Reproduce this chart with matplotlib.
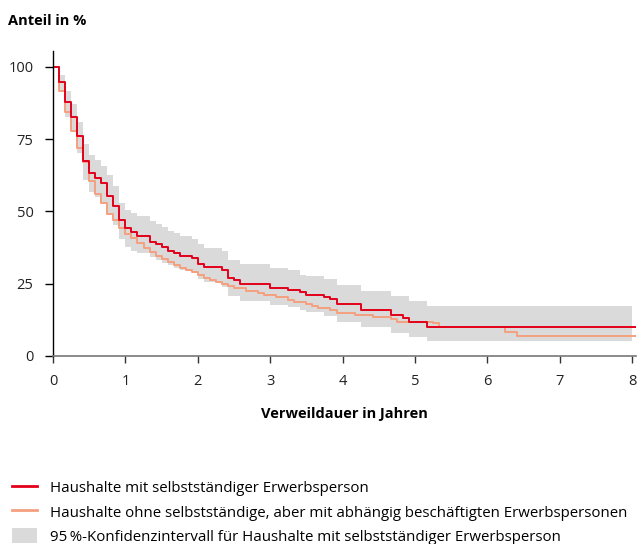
import numpy as np
import matplotlib
matplotlib.use("Agg")
import matplotlib.pyplot as plt
from matplotlib.lines import Line2D
from matplotlib.patches import Patch

plt.rcParams["font.family"] = ["Open Sans", "DejaVu Sans"]

# Kaplan-Meier steps, months since entry -> share in %
red_months = [0, 1, 2, 3, 4, 5, 6, 7, 8, 9, 10, 11, 12, 13, 14, 16, 17, 18, 19, 20,
              21, 23, 24, 25, 28, 29, 30, 31, 36, 39, 41, 42, 45, 46, 47, 51, 56, 58,
              59, 62, 97]
red_vals = [100, 94.9, 87.9, 82.8, 76.2, 67.5, 63.4, 61.4, 59.9, 55.5, 52.0, 47.2, 44.1,
            42.9, 41.6, 39.5, 38.6, 37.6, 36.4, 35.5, 34.6, 33.8, 31.8, 30.8, 29.7, 27.0,
            26.3, 24.9, 23.5, 22.9, 22.0, 21.2, 20.5, 19.6, 17.9, 15.9, 14.2, 13.0, 11.9,
            10.1, 10.1]

orange_months = [0, 1, 2, 3, 4, 5, 6, 7, 8, 9, 10, 11, 12, 13, 14, 15, 16, 17, 18, 19,
                 20, 21, 22, 23, 24, 25, 26, 27, 28, 29, 30, 32, 34, 35, 37, 39, 40, 42,
                 43, 44, 46, 47, 50, 53, 56, 57, 63, 64, 75, 77, 97]
orange_vals = [100, 91.7, 84.3, 77.9, 71.8, 67.0, 60.6, 56.0, 52.8, 49.0, 47.0, 44.1,
               42.2, 40.7, 39.0, 37.2, 35.9, 34.6, 33.4, 32.4, 31.3, 30.5, 29.7, 28.9,
               28.0, 27.1, 26.3, 25.5, 24.8, 24.1, 23.4, 22.6, 21.7, 21.0, 20.4, 19.5,
               18.8, 18.0, 17.3, 16.7, 15.9, 15.0, 14.2, 13.4, 12.7, 11.9, 11.3, 10.1,
               8.4, 7.0, 7.0]

# 95% confidence interval for red series
ci_months = [0, 1, 2, 3, 4, 5, 6, 7, 8, 9, 10, 11, 12, 13, 14, 16, 17, 18, 19, 20, 21,
             23, 24, 25, 28, 29, 31, 36, 39, 41, 42, 45, 47, 51, 56, 59, 62, 96]
ci_upper = [100, 97.1, 91.6, 87.3, 81.0, 73.3, 69.5, 67.7, 65.8, 62.6, 58.9, 53.0, 50.5,
            49.3, 48.5, 46.7, 45.5, 44.5, 43.3, 42.4, 41.5, 40.6, 38.7, 37.2, 36.3, 33.2,
            31.7, 30.3, 29.7, 28.0, 27.7, 26.8, 24.6, 22.6, 20.9, 19.0, 17.3, 17.3]
ci_lower = [100, 91.4, 82.7, 78.3, 70.3, 60.8, 56.8, 55.1, 52.8, 48.7, 45.3, 40.3, 37.6,
            36.4, 35.5, 34.3, 33.2, 32.3, 31.5, 30.4, 29.7, 28.6, 26.8, 25.7, 24.0, 20.7,
            19.0, 17.6, 17.1, 15.9, 15.3, 13.8, 11.9, 9.9, 7.9, 6.4, 5.3, 5.3]

x_ticks = [0, 1, 2, 3, 4, 5, 6, 7, 8]
y_ticks = [0, 25, 50, 75, 100]

RED = "#e3001b"
ORANGE = "#f4a07f"
GREY = "#dadada"
FS = 10.5


def main():
    fig = plt.figure(figsize=(6.38, 5.44), dpi=100)
    ax = fig.add_axes([0.0831, 0.3456, 0.9139, 0.5607])

    ci_x = np.array(ci_months) / 12
    ax.fill_between(ci_x, ci_lower, ci_upper, step="post", color=GREY, linewidth=0)
    ax.step(np.array(orange_months) / 12, orange_vals, where="post", color=ORANGE, linewidth=1.4)
    ax.step(np.array(red_months) / 12, red_vals, where="post", color=RED, linewidth=1.4)

    ax.set_xlim(0, 8.055)
    ax.set_ylim(0, 105.5)
    ax.set_xticks(x_ticks)
    ax.set_yticks(y_ticks)
    ax.spines["top"].set_visible(False)
    ax.spines["right"].set_visible(False)
    ax.spines["left"].set_color("#000000")
    ax.spines["bottom"].set_color("#777777")
    ax.spines["left"].set_linewidth(1)
    ax.spines["bottom"].set_linewidth(1.2)
    ax.tick_params(axis="x", direction="out", length=5, width=1, color="#333333",
                   labelsize=FS, pad=8, labelcolor="#222222")
    ax.tick_params(axis="y", direction="out", length=6, width=1, color="#000000",
                   labelsize=FS, pad=8, labelcolor="#222222")

    fig.text(0.0125, 0.962, "Anteil in %", fontsize=FS, fontweight="bold", ha="left", va="center")
    ax.set_xlabel("Verweildauer in Jahren", fontsize=FS, fontweight="bold", labelpad=13)

    handles = [
        Line2D([], [], color=RED, linewidth=2),
        Line2D([], [], color=ORANGE, linewidth=2),
        Patch(facecolor=GREY, edgecolor="none"),
    ]
    labels = [
        "Haushalte mit selbstständiger Erwerbsperson",
        "Haushalte ohne selbstständige, aber mit abhängig beschäftigten Erwerbspersonen",
        "95\u2009%-Konfidenzintervall für Haushalte mit selbstständiger Erwerbsperson",
    ]
    fig.legend(handles, labels, loc="lower left", bbox_to_anchor=(0.005, -0.018),
               frameon=False, fontsize=10.8, handlelength=1.65, handleheight=1.2,
               handletextpad=0.9, labelspacing=0.5, borderaxespad=0.2)

    fig.savefig("out.png", dpi=100)


if __name__ == "__main__":
    main()
